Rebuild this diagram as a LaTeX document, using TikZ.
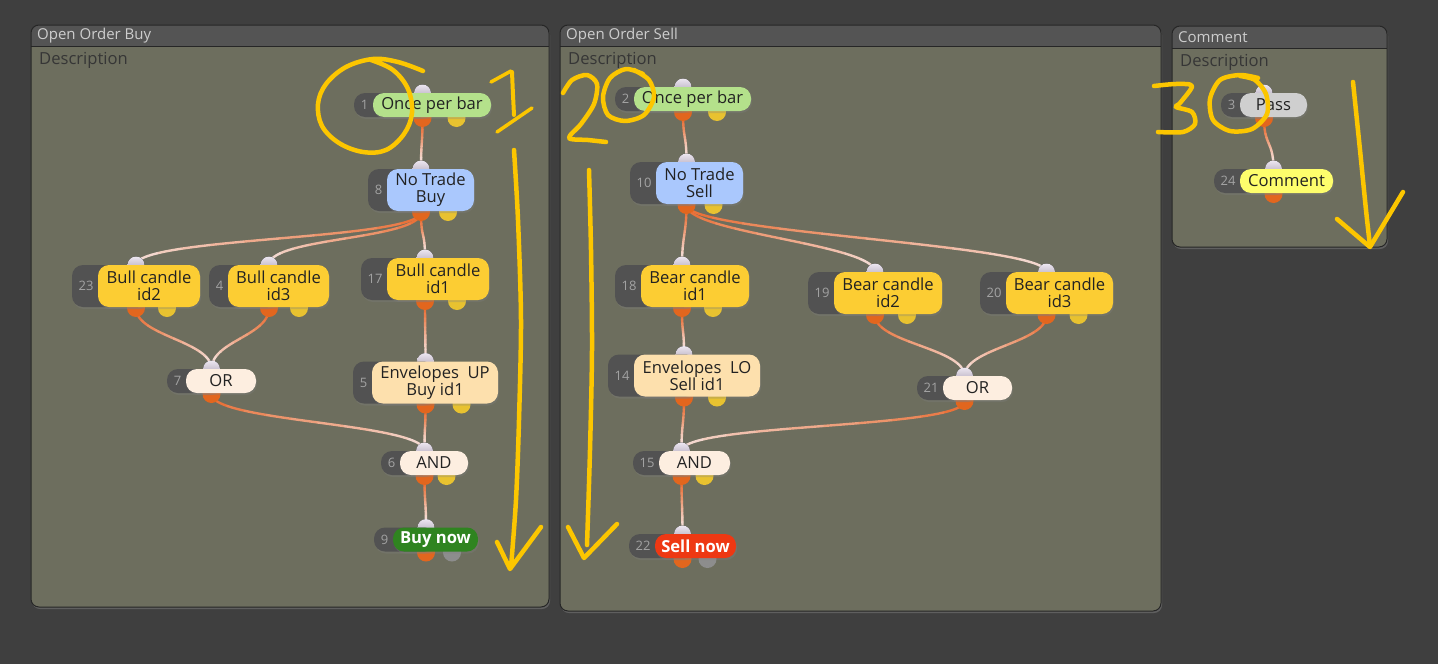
\documentclass[tikz,border=0pt]{standalone}
\usepackage{fontspec}
\setmainfont{Open Sans}
\usetikzlibrary{calc, shadows}

\definecolor{canvas}{HTML}{3F3F3F}
\definecolor{panelhead}{HTML}{545454}
\definecolor{panelbody}{HTML}{6D6E5E}
\definecolor{panelline}{HTML}{262626}
\definecolor{headtext}{HTML}{CDCDCD}
\definecolor{desctext}{HTML}{363636}
\definecolor{tagfill}{HTML}{525252}
\definecolor{tagtext}{HTML}{A3A3A3}
\definecolor{blocktext}{HTML}{222222}
\definecolor{oncegreen}{HTML}{B4E18B}
\definecolor{tradeblue}{HTML}{AAC8FD}
\definecolor{candleyellow}{HTML}{FCCD33}
\definecolor{logiccream}{HTML}{FDEEE0}
\definecolor{envpeach}{HTML}{FDE0AD}
\definecolor{buygreen}{HTML}{2F8420}
\definecolor{sellred}{HTML}{EE3813}
\definecolor{passgray}{HTML}{CFCFCF}
\definecolor{commentyellow}{HTML}{FEFE6C}
\definecolor{inporttop}{HTML}{ECE6F0}
\definecolor{inportbot}{HTML}{A89EB0}
\definecolor{portorange}{HTML}{E2661E}
\definecolor{auxyellow}{HTML}{E8C230}
\definecolor{auxgray}{HTML}{8D8D8D}
\definecolor{wireorange}{HTML}{E8672A}
\definecolor{wirepale}{HTML}{F4E2DE}
\definecolor{scribbleyellow}{HTML}{FCC600}

\pgfdeclarelayer{back}
\pgfdeclarelayer{wires}
\pgfdeclarelayer{ports}
\pgfsetlayers{back,wires,ports,main}

\tikzstyle{panelshape} = [
    fill=panelbody,
    rounded corners=8pt,
    drop shadow={opacity=0.5, shadow xshift=1pt, shadow yshift=-2pt}
]
\tikzstyle{panelframe} = [
    draw=panelline,
    line width=1pt,
    rounded corners=8pt
]
\tikzstyle{paneltitle} = [
    anchor=west,
    inner sep=0pt,
    text=headtext,
    font=\fontsize{15}{15}\selectfont
]
\tikzstyle{paneldesc} = [
    anchor=west,
    inner sep=0pt,
    text=desctext,
    font=\fontsize{16.6}{16.6}\selectfont
]
\tikzstyle{blockbox} = [
    rectangle,
    rounded corners=11pt,
    inner sep=0pt,
    align=center,
    text=blocktext,
    font=\fontsize{16.6}{17}\selectfont,
    drop shadow={opacity=0.3, shadow xshift=1pt, shadow yshift=-2pt}
]
\tikzstyle{tagbox} = [
    fill=tagfill,
    rounded corners=11pt,
    drop shadow={opacity=0.3, shadow xshift=1pt, shadow yshift=-2pt}
]
\tikzstyle{tagnum} = [
    inner sep=0pt,
    text=tagtext,
    font=\fontsize{13}{13}\selectfont
]
\tikzstyle{oncefill} = [fill=oncegreen]
\tikzstyle{tradefill} = [fill=tradeblue]
\tikzstyle{candlefill} = [fill=candleyellow]
\tikzstyle{logicfill} = [fill=logiccream]
\tikzstyle{envfill} = [fill=envpeach]
\tikzstyle{buyfill} = [fill=buygreen, text=white, font=\fontsize{16.6}{17}\selectfont\bfseries]
\tikzstyle{sellfill} = [fill=sellred, text=white, font=\fontsize{16.6}{17}\selectfont\bfseries]
\tikzstyle{passfill} = [fill=passgray]
\tikzstyle{commentfill} = [fill=commentyellow]
\tikzstyle{inport} = [top color=inporttop, bottom color=inportbot]
\tikzstyle{outport} = [fill=portorange]
\tikzstyle{auxport} = [fill=auxyellow]
\tikzstyle{auxoff} = [fill=auxgray]
\tikzstyle{wire} = [line width=2.4pt, line cap=round]
\tikzstyle{scribble} = [
    draw=scribbleyellow,
    line width=4.5pt,
    line cap=round,
    line join=round
]

% name, x1, y1, x2, y2, header bottom, title
\newcommand{\panel}[7]{%
  \begin{pgfonlayer}{back}
    \fill[panelshape] (#2,#3) rectangle (#4,#5);
    \begin{scope}
      \clip[rounded corners=8pt] (#2,#3) rectangle (#4,#5);
      \fill[panelhead] (#2,#3) rectangle (#4,#6);
    \end{scope}
    \draw[panelline, line width=1pt] (#2,#6) -- (#4,#6);
    \draw[panelframe] (#2,#3) rectangle (#4,#5);
    \node[paneltitle] (#1-title) at ({#2+6},{(#3+#6)/2}) {#7};
    \node[paneldesc] (#1-desc) at ({#2+8},{#6+14}) {Description};
  \end{pgfonlayer}
}

% name, number, x, y, width, height, style, text
\newcommand{\block}[8]{%
  \ifnum#2>9\relax\def\tagw{26}\else\def\tagw{19}\fi
  \pgfmathsetmacro\portx{#3-\tagw/2}
  \pgfmathsetmacro\porttop{#4-#6/2}
  \pgfmathsetmacro\portbot{#4+#6/2+1}
  \coordinate (#1-in) at (\portx,\porttop);
  \coordinate (#1-out) at (\portx,\portbot);
  \begin{pgfonlayer}{ports}
    \fill[inport] (#1-in) circle (8.5pt);
    \fill[outport] (#1-out) circle (9pt);
  \end{pgfonlayer}
  \fill[tagbox] ({#3-#5/2-\tagw},{#4-#6/2}) rectangle (#3,{#4+#6/2});
  \node[tagnum] (#1-num) at ({#3-#5/2-\tagw/2+1},#4) {#2};
  \node[blockbox, #7, minimum width=#5pt, minimum height=#6pt] (#1) at (#3,#4) {#8};
}

\begin{document}
\begin{tikzpicture}[x=1pt, y=-1pt]

\begin{pgfonlayer}{back}
\fill[canvas] (0,0) rectangle (1438,664);
\end{pgfonlayer}
\useasboundingbox (0,0) rectangle (1438,664);

\panel{buy}{31}{25}{549}{607}{46}{Open Order Buy}
\panel{sell}{560}{25}{1161}{611}{46}{Open Order Sell}
\panel{note}{1172}{26}{1387}{247}{48}{Comment}

\block{n1}{1}{432}{105}{118}{24}{oncefill}{Once per bar}
\block{n8}{8}{430.5}{190}{87}{42}{tradefill}{No Trade\\Buy}
\block{n23}{23}{149}{286}{102}{42}{candlefill}{Bull candle\\id2}
\block{n4}{4}{278.5}{286}{101}{42}{candlefill}{Bull candle\\id3}
\block{n17}{17}{438}{279}{102}{42}{candlefill}{Bull candle\\id1}
\block{n7}{7}{221}{381}{70}{24}{logicfill}{OR}
\block{n5}{5}{435}{382.5}{126}{42}{envfill}{Envelopes\ \ UP\\Buy id1}
\block{n6}{6}{434}{463}{68}{24}{logicfill}{AND}
\block{n9}{9}{435.5}{539.5}{85}{24}{buyfill}{Buy now}

\block{n2}{2}{692.5}{99}{117}{24}{oncefill}{Once per bar}
\block{n10}{10}{699.5}{183}{87}{42}{tradefill}{No Trade\\Sell}
\block{n18}{18}{695}{286}{108}{42}{candlefill}{Bear candle\\id1}
\block{n19}{19}{888}{293}{108}{42}{candlefill}{Bear candle\\id2}
\block{n20}{20}{1059.5}{293}{107}{42}{candlefill}{Bear candle\\id3}
\block{n14}{14}{697}{375.5}{126}{42}{envfill}{Envelopes\ \ LO\\Sell id1}
\block{n21}{21}{977.5}{388}{69}{24}{logicfill}{OR}
\block{n15}{15}{694.5}{463}{71}{24}{logicfill}{AND}
\block{n22}{22}{695.5}{546}{81}{24}{sellfill}{Sell now}

\block{n3}{3}{1273.5}{105}{67}{24}{passfill}{Pass}
\block{n24}{24}{1286.5}{181}{93}{24}{commentfill}{Comment}

\begin{pgfonlayer}{ports}
\foreach \n/\dx in {n1/34, n8/27, n23/31, n4/30, n17/32, n5/36, n6/22,
                    n2/34, n10/27, n18/31, n19/32, n20/32, n14/33, n15/23}
  \fill[auxport] ([xshift=\dx pt]\n-out) circle (9pt);
\foreach \n/\dx in {n9/26, n22/25}
  \fill[auxoff] ([xshift=\dx pt]\n-out) circle (9pt);
\end{pgfonlayer}

% wires: S-curve out -> in, orange fading to pale along the way
\begin{pgfonlayer}{wires}
\foreach \a/\b in {n1/n8, n8/n23, n8/n4, n8/n17, n23/n7, n4/n7, n17/n5,
                   n7/n6, n5/n6, n6/n9, n2/n10, n10/n18, n10/n19, n10/n20,
                   n18/n14, n19/n21, n20/n21, n14/n15, n21/n15, n15/n22, n3/n24} {
  \foreach \k in {0,...,11} {
    \pgfmathsetmacro\mix{100-\k*100/11}
    \draw[wire, draw=wireorange!\mix!wirepale]
      let \p1=(\a-out), \p2=(\b-in) in
      plot[domain=\k/12:(\k+1)/12, samples=5, variable=\t]
      ({\x1+(\x2-\x1)*(3*\t*\t-2*\t*\t*\t)},
       {\y1+(\y2-\y1)*(3*\t*\t-2*\t*\t*\t)-84*\t*(1-\t)*(1-2*\t)});
  }
}
\end{pgfonlayer}

\draw[scribble] plot[smooth, tension=0.6] coordinates {(423,71) (398,62) (373,59) (346,67) (326,84) (318,104) (322,126) (339,143) (363,152) (386,150) (404,134) (412,113) (408,89) (393,70) (371,60)};
\draw[scribble, line width=3.5pt] (491,82) -- (511,71);
\draw[scribble, line width=4pt] (512,72) -- (513,95) -- (514,115);
\draw[scribble, line width=3.5pt] (497,132) -- (532,108);
\draw[scribble] plot[smooth] coordinates {(514,150) (518,220) (521,320) (519,420) (516,500) (511,567)};
\draw[scribble] (497,542) -- (510,569) -- (541,527);

\draw[scribble] plot[smooth] coordinates {(563,93) (572,80) (587,75) (597,84) (594,104) (581,124) (569,138) (588,140) (606,142)};
\draw[scribble] plot[smooth] coordinates {(643,74) (626,69) (610,78) (603,97) (608,115) (625,121) (644,115) (654,97) (649,80) (634,70)};
\draw[scribble] plot[smooth] coordinates {(589,170) (591,250) (592,350) (590,450) (587,545)};
\draw[scribble] (568,527) -- (584,558) -- (617,524);

\draw[scribble] plot[smooth, tension=0.5] coordinates {(1154,86) (1176,84) (1192,86) (1180,103) (1176,107) (1192,112) (1195,124) (1183,132) (1158,132)};
\draw[scribble] plot[smooth] coordinates {(1258,78) (1240,75) (1220,80) (1210,99) (1213,120) (1230,131) (1252,129) (1267,114) (1266,94) (1255,80) (1240,76)};
\draw[scribble] plot[smooth] coordinates {(1353,82) (1360,150) (1366,210) (1370,246)};
\draw[scribble] (1337,219) -- (1370,247) -- (1403,192);

\end{tikzpicture}
\end{document}
